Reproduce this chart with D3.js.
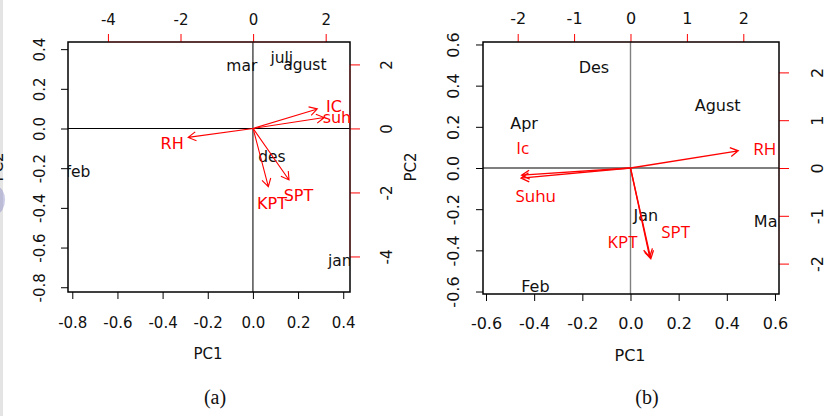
<!DOCTYPE html>
<html>
<head>
<meta charset="utf-8">
<script src="https://cdn.jsdelivr.net/npm/d3@7"></script>
<style>
  body { margin: 0; background: #fff; }
  svg text { font-family: "DejaVu Sans", sans-serif; }
</style>
</head>
<body>
<svg id="chart" width="827" height="416"></svg>
<script>
// ---- panel (a) data ----
const monthsA = ["mar", "julj", "agust", "feb", "des", "jan"];
const pc1A = [-0.049, 0.128, 0.230, -0.775, 0.084, 0.385];
const pc2A = [0.315, 0.355, 0.320, -0.219, -0.139, -0.667];
const varsA = ["IC", "suhu", "RH", "KPT", "SPT"];
const tipXA = [1.77, 1.96, -1.79, 0.42, 0.99];
const tipYA = [0.61, 0.34, -0.28, -1.82, -1.61];
const labXA = [2.23, 2.45, -2.23, 0.52, 1.25];
const labYA = [0.68, 0.33, -0.48, -2.34, -2.08];
const ticksA = [-0.8, -0.6, -0.4, -0.2, 0.0, 0.2, 0.4];
const ticksA2 = [-4, -2, 0, 2];

// ---- panel (b) data ----
const monthsB = ["Des", "Agust", "Apr", "Jan", "Mar", "Feb"];
const pc1B = [-0.152, 0.362, -0.442, 0.064, 0.575, -0.395];
const pc2B = [0.490, 0.306, 0.218, -0.228, -0.261, -0.573];
const varsB = ["RH", "Ic", "Suhu", "KPT", "SPT"];
const tipXB = [1.91, -1.93, -1.94, 0.34, 0.36];
const tipYB = [0.36, -0.15, -0.21, -1.86, -1.90];
const labXB = [2.38, -1.91, -1.68, -0.14, 0.80];
const labYB = [0.40, 0.42, -0.59, -1.55, -1.35];
const ticksB = [-0.6, -0.4, -0.2, 0.0, 0.2, 0.4, 0.6];
const ticksB2 = [-2, -1, 0, 1, 2];

const svg = d3.select("#chart");

// page edge artefacts on the left
svg.append("rect").attr("x", 0).attr("y", 0).attr("width", 3).attr("height", 416).attr("fill", "#e4e4e4");
svg.append("ellipse").attr("cx", -4).attr("cy", 200).attr("rx", 9).attr("ry", 14)
   .attr("fill", "#8c8cc8").attr("opacity", 0.45);

/**
 * Draw one biplot panel in the R biplot style.
 */
function draw_panel(p) {
  let g = svg.append("g");

  let x = d3.scaleLinear().domain(p.xdom).range([p.left, p.right]);
  let y = d3.scaleLinear().domain(p.ydom).range([p.bottom, p.top]);
  let x2 = d3.scaleLinear().domain(p.x2dom).range([p.left, p.right]);
  let y2 = d3.scaleLinear().domain(p.y2dom).range([p.bottom, p.top]);

  g.append("clipPath").attr("id", p.id)
   .append("rect")
   .attr("x", p.left).attr("y", p.top)
   .attr("width", p.right - p.left).attr("height", p.bottom - p.top);

  let fmt1 = d => d.toFixed(1);
  let fmt0 = d => String(d);

  // bottom axis
  let bx = g.append("g").attr("transform", "translate(0," + p.bottom + ")")
            .call(d3.axisBottom(x).tickValues(p.ticks).tickFormat(fmt1).tickSize(7).tickSizeOuter(0));
  bx.select(".domain").remove();
  bx.selectAll("text").attr("y", p.bottomOff).attr("dy", "0.35em")
    .style("font-size", p.fs + "px").attr("fill", "#111");

  // left axis
  let ly = g.append("g").attr("transform", "translate(" + p.left + ",0)")
            .call(d3.axisLeft(y).tickValues(p.ticks).tickFormat(fmt1).tickSize(7).tickSizeOuter(0));
  ly.select(".domain").remove();
  ly.selectAll("text").attr("x", 0).attr("dy", "0.35em").attr("text-anchor", "middle")
    .attr("transform", "translate(" + (-p.leftOff) + ",0) rotate(-90)")
    .style("font-size", p.fs + "px").attr("fill", "#111");

  // top axis (red ticks)
  let tx = g.append("g").attr("transform", "translate(0," + p.top + ")")
            .call(d3.axisTop(x2).tickValues(p.ticks2).tickFormat(fmt0).tickSize(8).tickSizeOuter(0));
  tx.select(".domain").remove();
  tx.selectAll("line").attr("stroke", "red");
  tx.selectAll("text").attr("y", -p.topOff).attr("dy", "0.35em")
    .style("font-size", p.fs + "px").attr("fill", "#111");

  // right axis (red ticks)
  let ry = g.append("g").attr("transform", "translate(" + p.right + ",0)")
            .call(d3.axisRight(y2).tickValues(p.ticks2).tickFormat(fmt0).tickSize(10).tickSizeOuter(0));
  ry.select(".domain").remove();
  ry.selectAll("line").attr("stroke", "red");
  ry.selectAll("text").attr("x", 0).attr("dy", "0.35em").attr("text-anchor", "middle")
    .attr("transform", "translate(" + p.rightOff + ",0) rotate(-90)")
    .style("font-size", p.fs + "px").attr("fill", "#111");

  // zero lines
  g.append("line").attr("x1", p.left).attr("x2", p.right).attr("y1", y(0)).attr("y2", y(0))
   .attr("stroke", "#000").attr("stroke-width", 1.1);
  g.append("line").attr("x1", x(0)).attr("x2", x(0)).attr("y1", p.top).attr("y2", p.bottom)
   .attr("stroke", p.vcol).attr("stroke-width", 1.4);

  // box
  g.append("rect")
   .attr("x", p.left).attr("y", p.top)
   .attr("width", p.right - p.left).attr("height", p.bottom - p.top)
   .attr("fill", "none").attr("stroke", "#000").attr("stroke-width", 1.5);
  // red right/top axis lines drawn over the box
  g.append("line").attr("x1", p.right).attr("x2", p.right)
   .attr("y1", y2(d3.max(p.ticks2))).attr("y2", y2(d3.min(p.ticks2)))
   .attr("stroke", "#b02020").attr("stroke-width", 1.2).attr("opacity", p.redLine);
  g.append("line").attr("y1", p.top).attr("y2", p.top)
   .attr("x1", x2(d3.min(p.ticks2))).attr("x2", x2(d3.max(p.ticks2)))
   .attr("stroke", "#b02020").attr("stroke-width", 1.2).attr("opacity", p.redLine);

  let inner = g.append("g").attr("clip-path", "url(#" + p.id + ")");

  // month labels
  inner.selectAll("text.month")
       .data(p.months)
       .enter().append("text")
       .attr("class", "month")
       .attr("x", (d, i) => x(p.pc1[i]))
       .attr("y", (d, i) => y(p.pc2[i]))
       .attr("dy", "0.35em")
       .attr("text-anchor", "middle")
       .style("font-size", p.mfs + "px")
       .attr("fill", "#111")
       .text(d => d);

  // arrows
  let head = 9, ang = Math.PI / 6;
  p.vars.forEach(function(v, i) {
    let x0 = x2(0), y0 = y2(0);
    let x1 = x2(p.tipX[i]), y1 = y2(p.tipY[i]);
    let a = Math.atan2(y1 - y0, x1 - x0);
    let path = "M" + x0 + "," + y0 + "L" + x1 + "," + y1 +
      "M" + (x1 - head * Math.cos(a - ang)) + "," + (y1 - head * Math.sin(a - ang)) +
      "L" + x1 + "," + y1 +
      "L" + (x1 - head * Math.cos(a + ang)) + "," + (y1 - head * Math.sin(a + ang));
    inner.append("path").attr("d", path).attr("fill", "none")
         .attr("stroke", "red").attr("stroke-width", p.aw);
  });

  // variable labels
  inner.selectAll("text.var")
       .data(p.vars)
       .enter().append("text")
       .attr("class", "var")
       .attr("x", (d, i) => x2(p.labX[i]))
       .attr("y", (d, i) => y2(p.labY[i]))
       .attr("dy", "0.35em")
       .attr("text-anchor", "middle")
       .style("font-size", p.vfs + "px")
       .style("font-family", p.vfont)
       .attr("fill", "red")
       .text(d => d);

  // axis titles
  g.append("text").attr("x", (p.left + p.right) / 2 - p.titleShift).attr("y", p.bottom + 67)
   .attr("text-anchor", "middle").style("font-size", p.fs + "px").attr("fill", "#111").text("PC1");
  if (p.showPC2) {
    g.append("text").attr("x", 0).attr("y", 0).attr("dy", "0.35em").attr("text-anchor", "middle")
     .attr("transform", "translate(" + (p.right + p.rtitleOff) + "," + ((p.top + p.bottom) / 2) + ") rotate(-90)")
     .style("font-size", p.fs + "px").attr("fill", "#111").text("PC2");
    g.append("text").attr("x", 0).attr("y", 0).attr("dy", "0.35em").attr("text-anchor", "middle")
     .attr("transform", "translate(" + (p.left - p.ltitleOff) + "," + ((p.top + p.bottom) / 2) + ") rotate(-90)")
     .style("font-size", p.fs + "px").attr("fill", "#111").text("PC2");
  }

  // caption
  g.append("text").attr("x", p.capX).attr("y", 397).attr("dy", "0.35em")
   .attr("text-anchor", "middle").style("font-family", "'Liberation Serif', serif")
   .style("font-size", "20px").attr("fill", "#111").text(p.caption);
}

draw_panel({
  id: "clipA", left: 68, right: 350, top: 42, bottom: 292,
  xdom: [-0.819, 0.430], ydom: [-0.824, 0.436],
  x2dom: [-5.10, 2.67], y2dom: [-5.11, 2.70],
  ticks: ticksA, ticks2: ticksA2,
  months: monthsA, pc1: pc1A, pc2: pc2A,
  vars: varsA, tipX: tipXA, tipY: tipYA, labX: labXA, labY: labYA,
  fs: 15, mfs: 15.5, vfs: 16, vfont: "'DejaVu Sans', sans-serif", aw: 1.1,
  bottomOff: 31, leftOff: 28, topOff: 22.5, rightOff: 36.7,
  showPC2: true, rtitleOff: 60.7, ltitleOff: 70, titleShift: 1,
  vcol: "#444", redLine: 0.5, capX: 215, caption: "(a)"
});

draw_panel({
  id: "clipB", left: 483, right: 779, top: 42, bottom: 294,
  xdom: [-0.6125, 0.6167], ydom: [-0.612, 0.612],
  x2dom: [-2.615, 2.633], y2dom: [-2.636, 2.636],
  ticks: ticksB, ticks2: ticksB2,
  months: monthsB, pc1: pc1B, pc2: pc2B,
  vars: varsB, tipX: tipXB, tipY: tipYB, labX: labXB, labY: labYB,
  fs: 16, mfs: 16, vfs: 17, vfont: "'Open Sans', sans-serif", aw: 1.3,
  bottomOff: 29, leftOff: 30, topOff: 23.7, rightOff: 38.7,
  showPC2: false, rtitleOff: 0, ltitleOff: 0, titleShift: 1,
  vcol: "#808080", redLine: 0.2, capX: 647, caption: "(b)"
});
</script>
</body>
</html>
